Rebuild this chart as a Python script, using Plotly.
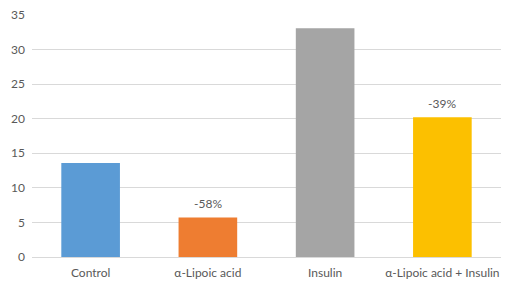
import plotly.graph_objects as go

categories = ["Control", "α-Lipoic acid", "Insulin", "α-Lipoic acid + Insulin"]
values = [13.6, 5.7, 33.1, 20.2]
labels = ["", "-58%", "", "-39%"]
colors = ["#5b9bd5", "#ee7d31", "#a5a5a5", "#fcc000"]
y_ticks = [0, 5, 10, 15, 20, 25, 30, 35]

FONT = "Lato"
GREY = "#595959"

fig = go.Figure()
fig.add_trace(go.Bar(
    x=categories, y=values, width=0.5,
    marker=dict(color=colors, line=dict(width=0)),
    hoverinfo="skip",
))
for c, v, t in zip(categories, values, labels):
    if t:
        fig.add_annotation(x=c, y=v, text=t, showarrow=False, yshift=14,
                           font=dict(family=FONT, size=12, color=GREY))

fig.update_layout(
    width=516, height=289,
    margin=dict(l=32, r=15, t=15, b=32),
    paper_bgcolor="white", plot_bgcolor="white",
    showlegend=False,
    font=dict(family=FONT, size=12, color=GREY),
    xaxis=dict(showgrid=False, showline=True, linecolor="#d9d9d9", linewidth=1,
               ticks="", ticklabelstandoff=5, automargin=False,
               tickfont=dict(family=FONT, size=12, color=GREY)),
    yaxis=dict(range=[0, 35], tickvals=y_ticks, showgrid=True, gridcolor="#d9d9d9",
               gridwidth=1, zeroline=False, showline=False, ticks="",
               ticklabelstandoff=6, automargin=False,
               tickfont=dict(family=FONT, size=12, color=GREY)),
)
fig.write_html("out.html")
